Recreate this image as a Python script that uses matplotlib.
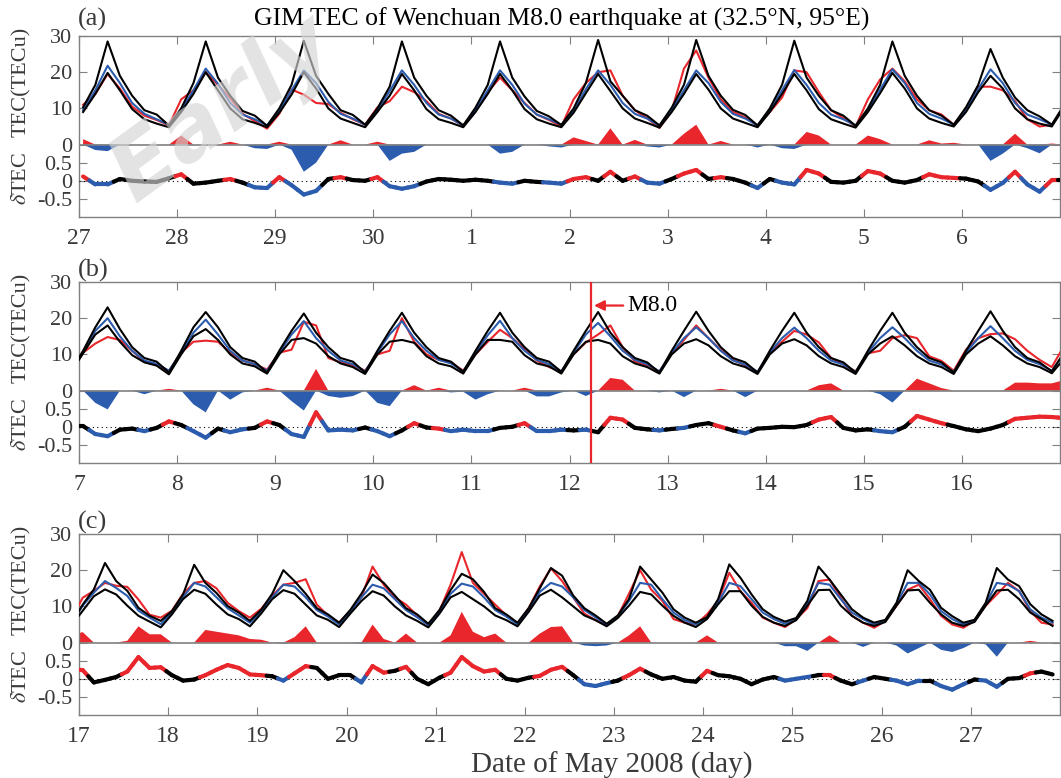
import numpy as np
import matplotlib.pyplot as plt
from matplotlib.collections import LineCollection

plt.rcParams['font.family'] = ['Liberation Serif', 'DejaVu Serif']
plt.rcParams['mathtext.fontset'] = 'stix'

# sample hours (UT) of each day, 3-hourly
hours = [1, 4, 7, 10, 13, 16, 19, 22]

# ---------------- panel (a): Apr 27 - May 6 ----------------
up_a = [10.3, 16.5, 28.5, 19, 13.5, 9.5, 8.3, 5.3,
        10, 17, 28.5, 18.5, 13.5, 9.3, 8, 5.2,
        10, 16.5, 28.7, 19, 14, 9.5, 8.2, 5.5,
        10, 16, 28.5, 18.5, 13.5, 9.5, 8, 5.3,
        10.2, 16.5, 28.5, 18.5, 13.3, 9.3, 7.8, 5.4,
        10, 17, 28.9, 17.5, 13.5, 9.5, 8, 5.3,
        10.2, 16.5, 28.9, 19, 13.5, 9.6, 8.2, 5.3,
        10, 16.5, 28.7, 18.5, 13.5, 9.5, 8, 5.2,
        10, 16.5, 28.5, 19, 13.5, 9.5, 8, 5.5,
        10.3, 16.5, 26.4, 18.5, 13, 9.5, 7.8, 5.5]
med_a = [9.5, 15, 21.8, 17, 11.5, 8.5, 7, 5.5,
         9.5, 15, 21, 16.8, 11.5, 8.3, 7, 5.3,
         9.3, 15, 20.5, 17, 11.8, 8.5, 7.2, 5.5,
         9.5, 14.8, 20.5, 16.5, 11.5, 8.3, 7.2, 5.3,
         9.5, 15, 20.5, 16.5, 11.3, 8.3, 7, 5.5,
         9.3, 15.3, 20.5, 16.5, 11.5, 8.5, 7.2, 5.2,
         9.5, 15, 20.5, 17, 11.8, 8.5, 7.2, 5.3,
         9.5, 15, 20.6, 16.5, 11.5, 8.3, 7, 5.3,
         9.5, 15.2, 20.8, 17, 11.5, 8.5, 7.2, 5.5,
         9.5, 15.3, 20.8, 17, 11.5, 8.3, 7, 5.5]
lo_a = [9, 14, 19.8, 15, 9.8, 7, 5.8, 4.8,
        9, 14, 20, 15, 10, 7, 6, 4.8,
        8.8, 13.8, 20, 15.5, 10, 7.2, 6, 4.8,
        9, 13.5, 19.5, 15, 9.8, 7, 6, 4.8,
        9, 14, 19.5, 15, 9.8, 7, 5.8, 4.8,
        8.8, 14.2, 19.5, 14.8, 10, 7.2, 6, 4.7,
        9, 14, 19.5, 15.2, 10, 7.2, 6, 4.8,
        9, 14, 19.5, 15, 9.8, 7, 5.8, 4.7,
        9, 14.2, 19.8, 15.5, 10, 7.2, 6, 5,
        9, 14.5, 19, 15.5, 10, 7, 5.8, 5]
obs_a = [11, 14, 19.5, 15.5, 10.5, 8, 6.8, 5.3,
         12.5, 15, 20, 16.5, 12.8, 8.5, 6.5, 4.4,
         8.5, 15.2, 13.8, 11.5, 11.2, 8.8, 7, 5.5,
         10.3, 12, 16, 14.5, 12, 8.5, 7.2, 5.2,
         9.5, 14.5, 18.5, 15, 11.5, 8.3, 6.8, 5,
         12.5, 17, 20, 20.5, 13.5, 9.5, 7.3, 4.6,
         9.3, 21, 26, 18.5, 12.5, 9, 7.5, 5.2,
         9, 13, 20.5, 20, 14.5, 9.5, 7.3, 5,
         12.5, 18, 21, 17.5, 12.5, 9.5, 8.3, 5.5,
         10, 16, 16, 15, 12, 7, 5, 5.5]
dtec_a = [0.12, -0.1, -0.1, 0.05, 0.0, -0.02, -0.03, 0.07,
          0.18, -0.08, -0.05, 0.0, 0.05, -0.05, -0.18, -0.2,
          0.1, -0.12, -0.38, -0.28, 0.05, 0.1, 0.02, 0.0,
          0.1, -0.15, -0.22, -0.15, -0.02, 0.05, 0.03, 0.0,
          0.03, 0.0, -0.05, -0.08, 0.0, -0.03, -0.05, -0.08,
          0.05, 0.1, 0.0, 0.25, 0.0, 0.12, -0.05, -0.08,
          0.05, 0.2, 0.3, 0.05, 0.1, 0.05, -0.05, -0.2,
          0.05, -0.05, -0.1, 0.3, 0.2, -0.03, -0.05, 0.0,
          0.27, 0.2, 0.0, -0.05, 0.02, 0.18, 0.1, 0.08,
          0.06, -0.02, -0.25, -0.06, 0.25, -0.1, -0.3, 0.02]
anom_a = [1.5, -1.5, -1.8, 0, 0, 0, 0, 0,
          2.5, 0, 0, 0, 0.8, 0, -1.0, -1.2,
          0.8, -1.4, -7.5, -5, 0, 1.2, 0, 0,
          0.8, -4.5, -2.5, -2, 0, 0, 0, 0,
          0, 0, -2.5, -2, 0, 0, -0.5, -0.8,
          2, 1, 0, 4.5, 0, 1.3, -0.5, -0.8,
          0, 3, 5.5, 0, 1, 0, 0, -0.8,
          0, -1, -1.2, 3.5, 2.5, 0, 0, 0,
          2.5, 1.5, 0, 0, 0, 1.2, 0.3, 0.5,
          0, 0, -4.5, -2.5, 3, -1, -2.4, 0.3]

# ---------------- panel (b): May 7 - May 16 ----------------
up_b = [11, 17.5, 23, 17, 12, 9, 8, 5,
        11, 17.5, 21.7, 17.5, 12, 9, 8, 5,
        11, 16.5, 21.3, 16, 12, 9, 8, 5,
        11, 16.5, 21.5, 16, 12, 9, 8, 5.2,
        11, 16.5, 21.5, 16, 12, 9, 8, 5.2,
        11, 16.5, 21.7, 16, 12, 9, 7.8, 5,
        11, 16.5, 21.8, 16.5, 12, 9, 7.8, 5,
        11, 16.5, 21.5, 16, 12, 9, 7.8, 5,
        11, 16.5, 21.5, 16, 12, 9, 7.8, 5,
        11, 16.5, 21.9, 16.5, 12, 9, 7.8, 5.3]
med_b = [10.5, 16.5, 20, 15, 11, 8.3, 7.4, 5.5,
         10.5, 16, 19.6, 15.5, 11, 8.3, 7.3, 5.5,
         10.5, 15.5, 19.2, 14.5, 11, 8.3, 7.3, 5.3,
         10.5, 15.5, 19.2, 14.5, 11, 8.5, 7.5, 5.3,
         10.5, 15.3, 19.3, 14.5, 11, 8.5, 7.3, 5.3,
         10.5, 15.5, 18.7, 15, 11, 8.5, 7.3, 5.3,
         10.5, 14.5, 17.5, 14.5, 11, 8.3, 7.2, 5.2,
         10.5, 14.5, 17.4, 14.5, 11, 8.3, 7.2, 5.2,
         10.5, 14.5, 17.5, 14.5, 11, 8.3, 7.2, 5.2,
         10.5, 14.5, 17.8, 14.5, 11, 8.5, 7.3, 5.5]
lo_b = [10.3, 15.5, 18, 13.5, 9.8, 7.8, 6.9, 4.5,
        10, 15, 17, 14, 10, 7.5, 6.7, 4.7,
        10, 14, 14.5, 13, 9.5, 7.5, 6.5, 4.6,
        10, 13.5, 14, 13.2, 9.5, 7.5, 6.7, 4.7,
        10, 14, 14, 13.5, 9.8, 7.5, 6.7, 4.7,
        10, 13.5, 14, 13, 9.5, 7.5, 6.5, 4.7,
        10, 13, 14.2, 12.5, 9.5, 7.5, 6.5, 4.6,
        10, 13, 14.2, 12.5, 9.5, 7.5, 6.5, 4.6,
        10, 13, 15, 12.5, 9.5, 7.5, 6.5, 4.6,
        10, 13, 15, 12.5, 9.5, 7.5, 6.5, 4.8]
obs_b = [10.5, 13, 14.8, 14, 11, 8, 7.2, 5.4,
         10.5, 13.5, 13.8, 13.5, 10.5, 8.3, 7.3, 5.8,
         10.5, 11.3, 19, 18, 9, 7.8, 7, 5.5,
         10, 11, 20, 13.5, 10, 8.5, 7.8, 5.5,
         10, 13.5, 16.8, 14.5, 11.5, 8.3, 6.5, 5.3,
         10, 13.3, 15.5, 18, 12, 8, 7, 5.3,
         10.2, 14, 18, 14.5, 11.2, 8.5, 7, 4.9,
         10.5, 13.5, 16.5, 15.5, 13.3, 9, 7.2, 5.3,
         10.3, 11, 14.5, 15.3, 14.5, 9.5, 8.2, 5.5,
         11.3, 14.5, 15.6, 15.8, 14.2, 11, 8.5, 6.5]
dtec_b = [0.02, -0.2, -0.26, -0.08, -0.05, -0.12, -0.03, 0.15,
          0.05, -0.12, -0.3, -0.05, -0.15, -0.07, -0.03, 0.15,
          0.05, -0.2, -0.28, 0.4, -0.1, -0.08, -0.1, -0.02,
          -0.12, -0.26, -0.1, 0.1, -0.02, -0.05, -0.12, -0.08,
          -0.12, -0.12, -0.03, 0.0, 0.1, -0.12, -0.12, -0.08,
          -0.1, -0.08, -0.15, 0.25, 0.2, -0.03, -0.07, -0.1,
          -0.06, -0.03, 0.05, 0.1, 0.0, -0.1, -0.18, -0.05,
          -0.03, 0.0, -0.01, 0.05, 0.2, 0.27, -0.03, -0.1,
          -0.07, -0.12, -0.15, 0.0, 0.3, 0.2, 0.1, 0.02,
          -0.07, -0.12, -0.05, 0.05, 0.22, 0.25, 0.28, 0.27]
anom_b = [0, -3.4, -5.2, 0, 0, -1.0, 0, 0.5,
          0, -3.8, -6.0, 0, -2.5, -0.5, 0, 0.8,
          0, -2.9, -5.5, 6.0, -1.5, -2.0, -1.5, 0,
          -3.4, -4.3, 0, 1.5, 0, 0.8, -0.5, -0.3,
          -2.5, -1.0, 0, 0, 0.8, -1.6, -1.6, -0.5,
          0, -1.5, 0, 3.5, 3.0, 0, 0, -0.5,
          0, -1.8, 0, 0, 0.5, 0, -1.8, 0,
          0, 0, 0, 0, 1.5, 2.0, 0, 0,
          0, -1.0, -3.3, 0, 3.3, 2.0, 0.7, 0,
          0, 0, 0, 0, 2.2, 2.2, 2.0, 2.0]

# ---------------- panel (c): May 17 - May 27 ----------------
up_c = [10.5, 14.7, 22, 17, 14.3, 9.6, 7.4, 6,
        8.7, 13.3, 21.5, 16.5, 13.7, 10.1, 8.3, 6,
        9, 13.5, 20, 17, 13.5, 9.5, 7.8, 5.5,
        9, 13.5, 18.8, 16.5, 13, 9.5, 7.8, 5.2,
        9, 14.5, 19, 17.5, 14, 9.5, 7.8, 5.5,
        9.5, 15, 20.6, 18.5, 13, 9.5, 7.5, 5.2,
        7.5, 12, 21, 17.4, 13.8, 9.2, 6.9, 5.5,
        7, 12, 21.6, 17.9, 13.3, 9.2, 7.1, 5.8,
        6.8, 11.5, 21, 17.4, 13.3, 9.2, 6.9, 5.5,
        6.3, 11, 20, 17, 14.6, 9.6, 7.3, 5.5,
        6.3, 11, 20.6, 17.4, 15.6, 10.6, 7.8, 6]
med_c = [10.2, 13.8, 17, 15.1, 12.9, 8.8, 6.9, 5.1,
         8.3, 12.5, 16.5, 15.5, 12.5, 9.5, 7.5, 5.5,
         8.5, 12.5, 16, 15.5, 12.5, 9, 7.2, 5,
         8.5, 12.5, 16, 15, 12, 9, 7, 4.8,
         8.5, 13.5, 16.3, 15.5, 12.5, 9, 7.2, 5,
         9, 14, 16.5, 15.5, 12.5, 9, 7, 5,
         7.2, 11.5, 16.5, 16, 12, 8.3, 6.2, 5,
         6.9, 11, 16.5, 15.6, 12, 8.3, 6.5, 5.2,
         6.5, 10.6, 16.5, 16, 12, 8.3, 6.5, 5,
         6, 10.6, 16.5, 16.5, 13.3, 8.7, 6.5, 5,
         6, 10.6, 16.5, 16, 14.2, 9.2, 6.9, 5.5]
lo_c = [8.8, 12.8, 14.7, 13.3, 10.2, 7.4, 5.8, 4.2,
        7.8, 12, 14.6, 13.5, 10.5, 7.8, 6.5, 4.5,
        8, 12, 14.5, 13.5, 10.5, 7.5, 6.3, 4.3,
        8, 11.5, 14.2, 13, 10, 7.5, 6, 4.2,
        8, 12.5, 14, 12, 10, 7.5, 6.2, 4.5,
        8.5, 13, 14.6, 12.5, 10, 7.5, 6.2, 4.5,
        6.8, 10.2, 14, 13.3, 10.2, 7.4, 5.5, 4.3,
        6.5, 10.6, 14.2, 14.2, 10.2, 7.1, 5.5, 4.6,
        6.2, 10.2, 14.5, 14.6, 10.2, 7.4, 5.5, 4.6,
        5.7, 10.2, 14.4, 14.6, 11, 7.8, 5.5, 4.6,
        5.7, 10.2, 14.4, 14.6, 12, 8.3, 6.5, 4.6]
obs_c = [12.4, 14.3, 16.5, 15.7, 15.4, 11.9, 7.7, 6.9,
         8.8, 13.5, 16.5, 17, 15, 11, 8.7, 6.9,
         9.3, 13, 16, 16.5, 17.5, 10.5, 7.5, 5.5,
         8.8, 12.5, 21, 16, 12.5, 10.5, 7.5, 4.8,
         8.8, 16, 25, 16.5, 13.5, 10.5, 7.5, 5.2,
         9.5, 15.5, 20.5, 17, 12.5, 8, 6.2, 4.8,
         7.3, 13.5, 20, 14.6, 11.5, 6.5, 5.5, 5,
         7.8, 11.5, 19.3, 14.2, 11, 6.9, 5.5, 4.3,
         6.5, 9.5, 17, 17.4, 12.4, 7.4, 5.5, 4.1,
         6, 10.2, 14.6, 16, 12, 7.4, 5, 4.1,
         6, 10.2, 13.3, 16.5, 14.2, 8.7, 5.5, 5]
dtec_c = [0.24, -0.1, -0.03, 0.05, 0.2, 0.6, 0.3, 0.32,
          0.1, -0.05, -0.02, 0.1, 0.25, 0.38, 0.3, 0.12,
          0.1, 0.07, -0.05, 0.15, 0.35, 0.3, 0.0, 0.1,
          0.1, -0.1, 0.35, 0.17, 0.22, 0.33, 0.0, -0.15,
          0.03, 0.17, 0.6, 0.35, 0.2, 0.25, 0.0, -0.05,
          0.03, 0.08, 0.25, 0.33, 0.1, -0.15, -0.2, -0.12,
          -0.05, 0.1, 0.28, 0.12, 0.0, 0.05, -0.05, -0.08,
          0.22, 0.1, 0.07, 0.0, -0.15, -0.02, 0.05, -0.05,
          0.0, 0.05, 0.1, 0.1, -0.05, -0.15, -0.05, 0.05,
          0.0, -0.05, -0.15, -0.05, -0.05, -0.2, -0.3, -0.15,
          -0.02, -0.05, -0.22, 0.0, 0.02, 0.15, 0.2, 0.12]
anom_c = [2.9, 0, 0, 0, 0.5, 4.5, 2.3, 2.3,
          0, 0, 0, 3.5, 3.0, 2.5, 2.0, 1.0,
          0.8, 0, -0.3, 1.5, 4.5, 0, 0, 0,
          0, -0.3, 5.0, 1.0, 0, 2.5, 0, 0,
          0, 2, 8.5, 3, 1.5, 2.5, 0, 0,
          0, 2.5, 4.3, 4.5, 0, -0.8, -1.0, -0.8,
          0, 2.0, 4.5, 0, 0, 0, 0, 0,
          2.0, 0, 0, 0, 0, 0, 0, -1.0,
          -1.0, -2.3, 0, 2.0, 0, 0, -1.2, 0,
          0, -0.8, -3.0, -1.5, 0, -2.0, -2.6, -1.5,
          0, -0.5, -3.9, 0, 0, 0.5, 0, 0]

day_labels = ['27', '28', '29', '30'] + [str(i) for i in range(1, 29)]
eq_may = 12.22          # Wenchuan earthquake, May 12
panel_days = [(0, 10), (10, 20), (20, 31)]

# join the three panels into one continuous record (day 0 = Apr 27)
upper = np.array(up_a + up_b + up_c)
median = np.array(med_a + med_b + med_c)
lower = np.array(lo_a + lo_b + lo_c)
obs = np.array(obs_a + obs_b + obs_c)
dtec = np.array(dtec_a + dtec_b + dtec_c)
anom = np.array(anom_a + anom_b + anom_c)
ndays = len(obs) // len(hours)
t = (np.arange(ndays)[:, None] + np.array(hours)[None, :] / 24.0).ravel()

RED = '#e8262b'
BLUE = '#2c5cad'
GRAY = '#808080'
TXT = '#3a3a3a'
K = 10.0                      # dTEC = 1 is drawn as 10 TEC units
yd = K * (dtec - 1.0)


def colour(a):
    return RED if a > 0 else (BLUE if a < 0 else 'black')


# each dTEC segment is split at its middle, each half takes the colour
# of the sample it starts from / ends at
segs, cols = [], []
for i in range(len(t) - 1):
    p0, p1 = (t[i], yd[i]), (t[i + 1], yd[i + 1])
    pm = ((p0[0] + p1[0]) / 2, (p0[1] + p1[1]) / 2)
    segs += [[p0, pm], [pm, p1]]
    cols += [colour(anom[i]), colour(anom[i + 1])]

fig = plt.figure(figsize=(10.61, 7.78), dpi=100)

# faint watermark (behind everything)
fig.text(95 / 1061, 1 - 200 / 778, 'Early', rotation=36, fontsize=64,
         color='#d4d4d4', alpha=0.65, ha='left', va='baseline',
         family='DejaVu Sans', style='italic', weight='bold', zorder=0)

bottoms = [1 - 217 / 778, 1 - 463 / 778, 1 - 715 / 778]
tags = ['(a)', '(b)', '(c)']
tag_y = [19, 270, 522]

for k, (d0, d1) in enumerate(panel_days):
    ax = fig.add_axes([79 / 1061, bottoms[k], 981 / 1061, 181 / 778])
    ax.patch.set_alpha(0)
    ax.fill_between(t, 0, np.clip(anom, 0, None), color=RED, lw=0, zorder=2)
    ax.fill_between(t, 0, np.clip(anom, None, 0), color=BLUE, lw=0, zorder=2)
    ax.axhline(0, color=GRAY, lw=1.2, zorder=3)
    ax.axhline(-K, color='black', ls=(0, (1, 3)), lw=0.8, zorder=3)
    ax.plot(t, obs, color=RED, lw=1.5, zorder=4)
    ax.plot(t, median, color=BLUE, lw=1.5, zorder=5)
    ax.plot(t, upper, color='black', lw=1.5, zorder=6)
    ax.plot(t, lower, color='black', lw=1.5, zorder=6)
    ax.add_collection(LineCollection(segs, colors=cols, linewidths=3.0,
                                     capstyle='round', zorder=7))
    ax.set_xlim(d0, d1)
    ax.set_ylim(-2 * K, 30)
    ticks = list(range(d0, d1))
    ax.set_xticks(ticks)
    ax.set_xticklabels([day_labels[i] for i in ticks])
    ax.set_yticks([-15, -10, -5, 0, 10, 20, 30])
    ax.set_yticklabels(['-0.5', '0', '0.5', '0', '10', '20', '30'])
    ax.tick_params(direction='in', top=True, right=True, length=6, width=0.8,
                   color=GRAY, labelcolor=TXT, labelsize=16)
    ax.tick_params(axis='x', pad=8, labelsize=17)
    ax.tick_params(axis='y', pad=5)
    for sp in ax.spines.values():
        sp.set_color(GRAY)
        sp.set_linewidth(1.0)
    ax.text(-0.059, 0.745, 'TEC(TECu)', transform=ax.transAxes, rotation=90,
            ha='center', va='center', fontsize=16, color=TXT)
    ax.text(-0.059, 0.215, r'$\delta$TEC', transform=ax.transAxes, rotation=90,
            ha='center', va='center', fontsize=16, color=TXT)
    fig.text(78 / 1061, 1 - tag_y[k] / 778, tags[k], ha='left', va='center',
             fontsize=19, color=TXT)
    if k == 1:
        eq = eq_may + 3
        ax.axvline(eq, color=RED, lw=1.6, zorder=8)
        ax.annotate('M8.0', xy=(eq + 0.03, 23.5), xytext=(eq + 0.37, 23.5),
                    va='center', ha='left', fontsize=17,
                    arrowprops=dict(arrowstyle='-|>', color=RED, lw=1.6,
                                    mutation_scale=15, shrinkA=1, shrinkB=0))

fig.text(562 / 1061, 1 - 19 / 778,
         'GIM TEC of Wenchuan M8.0 earthquake at (32.5°N, 95°E)',
         ha='center', va='center', fontsize=18.5)
fig.text(612 / 1061, 1 - 765 / 778, 'Date of May 2008 (day)',
         ha='center', va='center', fontsize=21, color=TXT)

fig.savefig('out.png', dpi=100)
